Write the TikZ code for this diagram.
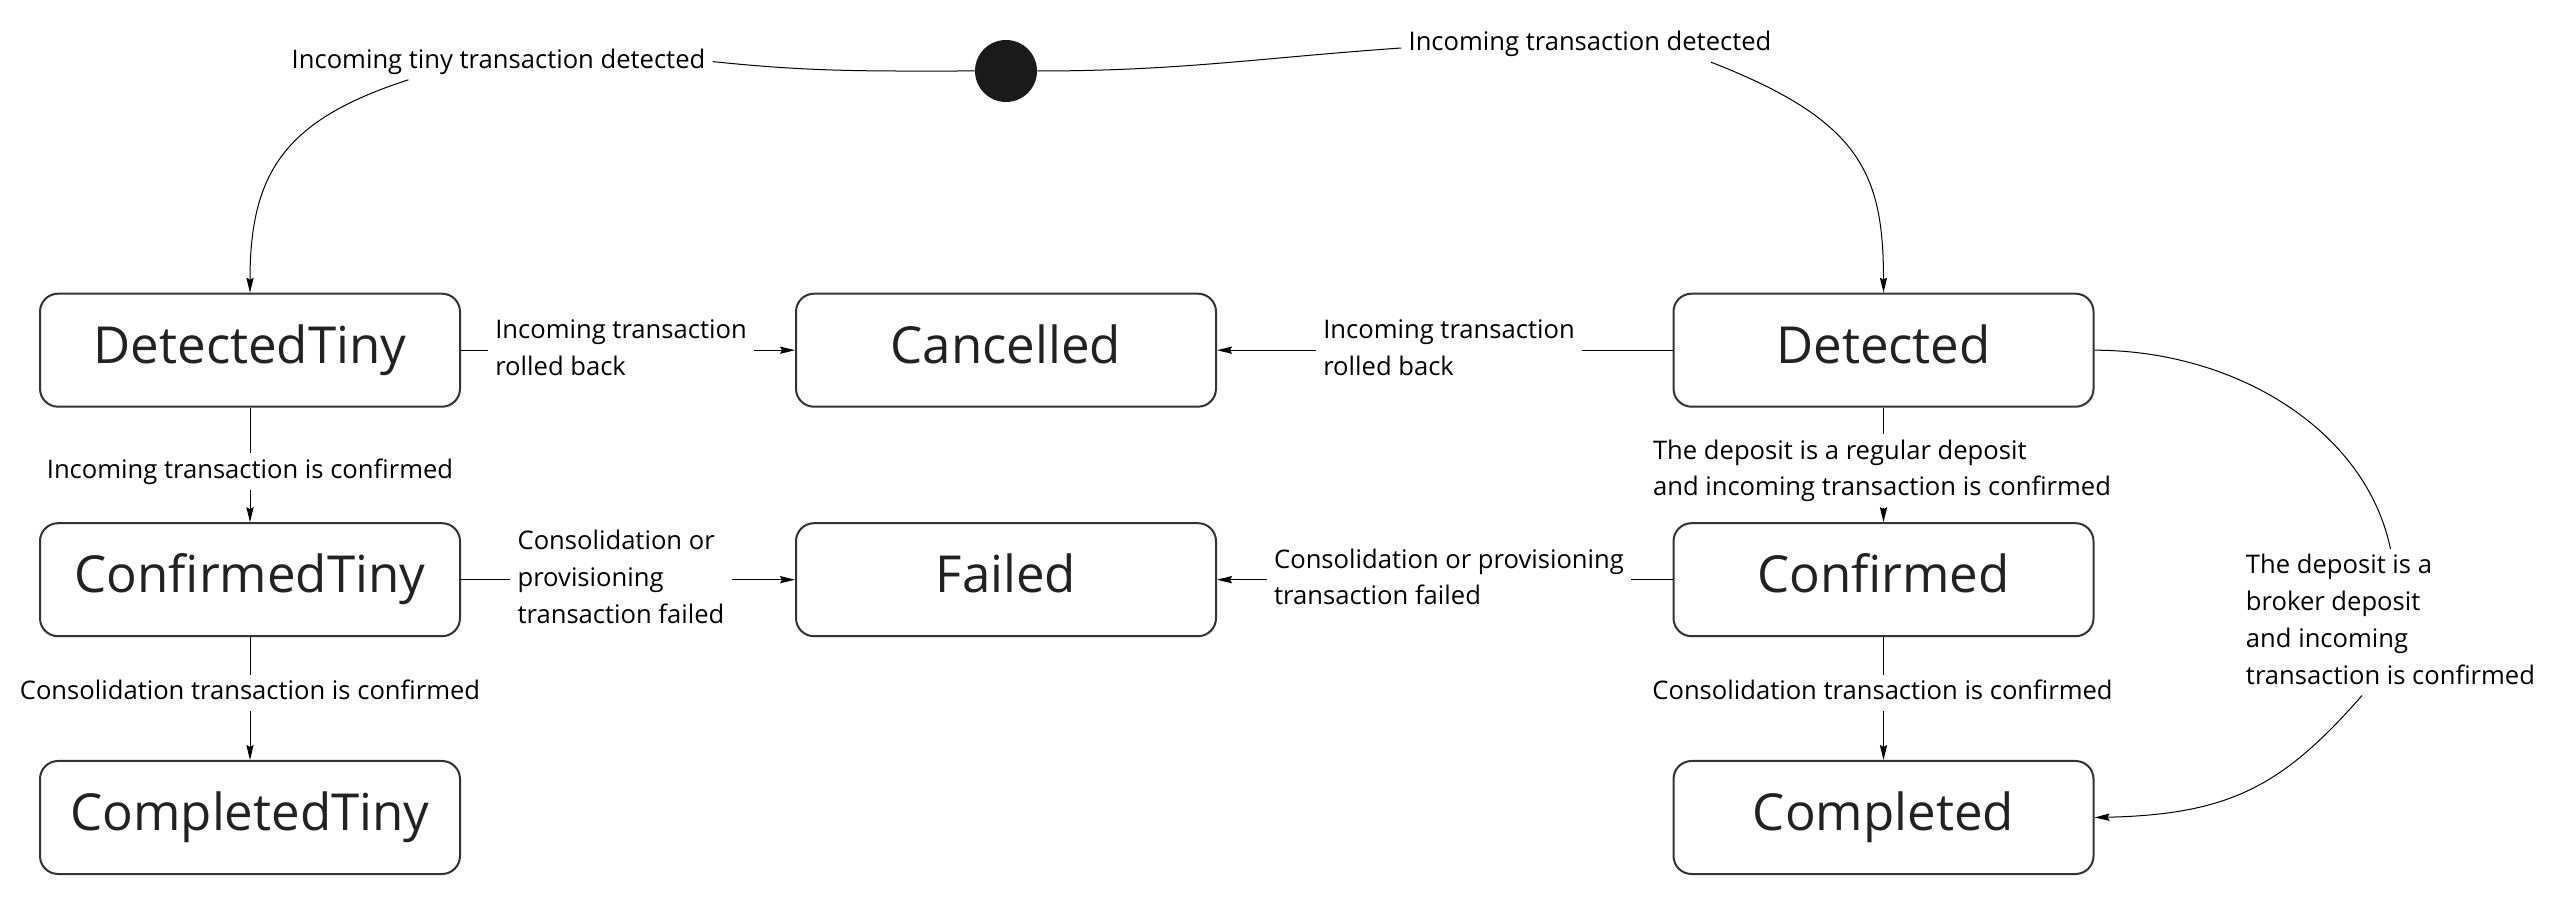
\documentclass[tikz,border=0pt]{standalone}
\usepackage{fontspec}
\setmainfont{Open Sans}
\usetikzlibrary{arrows.meta}
\definecolor{boxc}{HTML}{333333}
\definecolor{boxtext}{HTML}{222222}
\definecolor{startc}{HTML}{1A1A1A}
\newcommand\lstrut{\rule[-3.07pt]{0pt}{12.8pt}}
\begin{document}
\begin{tikzpicture}[x=0.5pt,y=0.5pt,
  state/.style={draw=boxc, line width=1pt, rounded corners=9pt,
    minimum width=210pt, minimum height=56.5pt, inner sep=0pt,
    font=\fontsize{25.5pt}{30pt}\selectfont, text=boxtext,
    text height=19.4pt, text depth=6.1pt},
  lbl/.style={inner xsep=3.5pt, inner ysep=2.5pt, text=black,
    font=\fontsize{12.8pt}{18.35pt}\selectfont, align=left},
  lbl1/.style={lbl, text height=9.73pt, text depth=3.07pt},
  edge/.style={line width=0.5pt, draw=black},
  arr/.style={edge, -{Stealth[length=7.5pt,width=3.6pt,inset=1pt]}},
]
\fill[white] (0,0) rectangle (2558,910);
\useasboundingbox (0,0) rectangle (2558,910);

% states
\node[circle, fill=startc, minimum size=31pt, inner sep=0pt] (start) at (1006,839) {};
\node[state] (dt)  at (250,559.8)    {DetectedTiny};
\node[state] (ca)  at (1006,559.8)   {Cancelled};
\node[state] (de)  at (1883.5,559.8) {Detected};
\node[state] (ct)  at (250,330.3)    {ConfirmedTiny};
\node[state] (fa)  at (1006,330.3)   {Failed};
\node[state] (co)  at (1883.5,330.3) {Confirmed};
\node[state] (cpt) at (250,92.5)     {CompletedTiny};
\node[state] (cp)  at (1883.5,92.5)  {Completed};

% labels
\node[lbl1] (l1)  at (498.5,848.4) {Incoming tiny transaction detected};
\node[lbl1] (l2)  at (1590,866)    {Incoming transaction detected};
\node[lbl]  (l3)  at (621,559.8)   {\lstrut Incoming transaction\\rolled back\lstrut};
\node[lbl]  (l4)  at (1449,559.8)  {\lstrut Incoming transaction\\rolled back\lstrut};
\node[lbl1] (l5)  at (250,438.6)   {Incoming transaction is confirmed};
\node[lbl1] (l6)  at (250,216.7)   {Consolidation transaction is confirmed};
\node[lbl]  (l7)  at (621,330.3)   {\lstrut Consolidation or\\provisioning\\transaction failed\lstrut};
\node[lbl]  (l8)  at (1449,330.3)  {\lstrut Consolidation or provisioning\\transaction failed\lstrut};
\node[lbl]  (l9)  at (1882,439)    {\lstrut The deposit is a regular deposit\\and incoming transaction is confirmed\lstrut};
\node[lbl1] (l10) at (1882.5,216.7) {Consolidation transaction is confirmed};
\node[lbl]  (l11) at (2390.5,287.7) {\lstrut The deposit is a\\broker deposit\\and incoming\\transaction is confirmed\lstrut};

% initial transitions
\draw[edge] (start.west) to[out=180,in=-6] (l1.east);
\draw[edge] (start.east) to[out=0,in=184] ([yshift=-2pt]l2.west);
\draw[arr] ([xshift=-45pt]l1.south) .. controls +(-124,-40) and +(0,120) .. (dt.north);
\draw[arr] ([xshift=60.5pt]l2.south) .. controls +(149,-58) and +(0,120) .. (de.north);

% horizontal transitions
\draw[edge] (dt.east) -- (l3.west |- dt.east);
\draw[arr]  (l3.east |- dt.east) -- (ca.west);
\draw[edge] (de.west) -- (l4.east |- de.west);
\draw[arr]  (l4.west |- de.west) -- (ca.east);
\draw[edge] (ct.east) -- (l7.west |- ct.east);
\draw[arr]  (l7.east |- ct.east) -- (fa.west);
\draw[edge] (co.west) -- (l8.east |- co.west);
\draw[arr]  (l8.west |- co.west) -- (fa.east);

% vertical transitions
\draw[edge] (dt.south) -- (l5.north);
\draw[arr]  (l5.south) -- (ct.north);
\draw[edge] (ct.south) -- (l6.north);
\draw[arr]  (l6.south) -- (cpt.north);
\draw[edge] (de.south) -- (l9.north -| de.south);
\draw[arr]  (l9.south -| de.south) -- (co.north);
\draw[edge] (co.south) -- (l10.north -| co.south);
\draw[arr]  (l10.south -| co.south) -- (cp.north);

% broker deposit
\draw[edge] (de.east) .. controls +(140,0) and +(-25,120) .. (l11.north);
\draw[arr]  ([xshift=-14.25pt]l11.south) .. controls +(-79,-90) and +(136,3) .. (cp.east);
\end{tikzpicture}
\end{document}
